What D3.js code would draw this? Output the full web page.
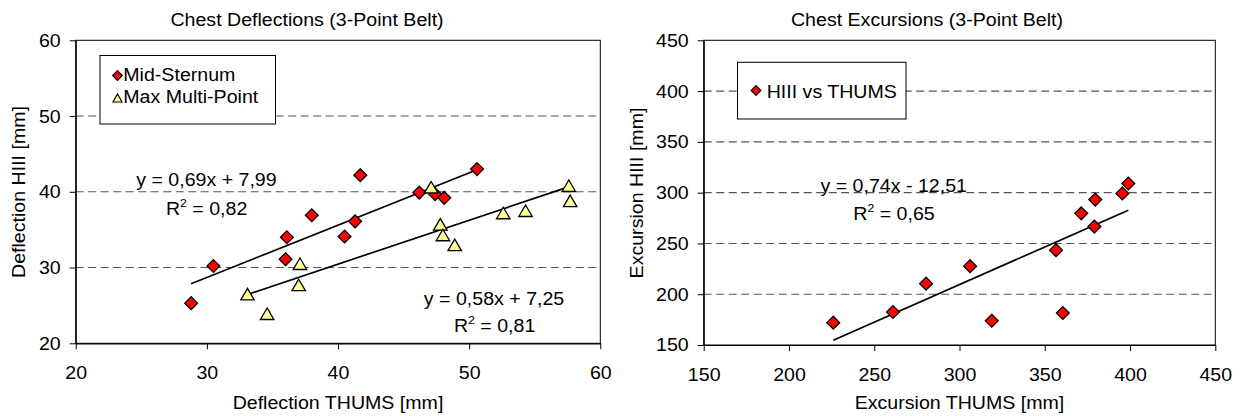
<!DOCTYPE html>
<html><head><meta charset="utf-8">
<script src="https://cdn.jsdelivr.net/npm/d3@7/dist/d3.min.js"></script>
<style>
body{margin:0;background:#fff}
text{font-family:"Liberation Sans",Arial,sans-serif;fill:#000}
</style>
</head><body>
<svg id="c" width="1240" height="416"></svg>
<script>
// ---------- data ----------
const midX   = [28.8, 30.5, 36.1, 36.0, 38.0, 40.5, 41.3, 41.7, 46.2, 47.4, 48.1, 50.6];
const midY   = [25.3, 30.2, 34.0, 31.1, 36.9, 34.1, 36.1, 42.2, 39.9, 39.7, 39.2, 43.0];
const multiX = [33.1, 34.6, 37.1, 37.0, 47.1, 47.8, 48.0, 48.9, 52.6, 54.3, 57.6, 57.7];
const multiY = [26.5, 23.9, 30.5, 27.7, 40.6, 35.7, 34.3, 33.0, 37.2, 37.5, 40.8, 38.8];
const excX   = [226, 261, 280.4, 306.2, 318.9, 356.6, 360.6, 371.4, 379.1, 379.6, 395.5, 399];
const excY   = [172, 182.5, 210.4, 227.6, 173.9, 243.4, 181.5, 279.6, 266.6, 293.2, 299.2, 309];
const midFit   = [0.69, 7.99];
const multiFit = [0.58, 7.25];
const excFit   = [0.74, -12.51];
const defTicks = [20, 30, 40, 50, 60];
const excTicks = [150, 200, 250, 300, 350, 400, 450];
const legendLeft  = ["Mid-Sternum", "Max Multi-Point"];
const legendRight = ["HIII vs THUMS"];

// ---------- setup ----------
const svg = d3.select("#c");
const FS = 17.5, SX = 1.12;
function txt(g, x, y, s, anchor, rot) {
  return g.append("text")
    .attr("transform", `translate(${x},${y})` + (rot ? " rotate(-90)" : "") + ` scale(${SX},1)`)
    .attr("text-anchor", anchor || "start")
    .attr("font-size", FS).text(s);
}
function eqR(g, x, y, r2) {
  const t = g.append("text").attr("transform", `translate(${x},${y}) scale(${SX},1)`).attr("font-size", FS);
  t.append("tspan").text("R");
  t.append("tspan").attr("font-size", 11).attr("dy", -8).text("2");
  t.append("tspan").attr("dy", 8).text(" = " + r2);
}
const diamond = r => `M0,${-r}L${r},0L0,${r}L${-r},0Z`;
const tri = (w, h) => `M0,${-h/2}L${w/2},${h/2}L${-w/2},${h/2}Z`;

function panel(cfg) {
  const g = svg.append("g");
  const x = d3.scaleLinear().domain(cfg.dom).range([cfg.x0, cfg.x1]);
  const y = d3.scaleLinear().domain(cfg.dom).range([cfg.y1, cfg.y0]);
  // grid
  g.append("g").selectAll("line").data(cfg.ticks.slice(1, -1)).join("line")
    .attr("x1", cfg.x0).attr("x2", cfg.x1).attr("y1", d => y(d)).attr("y2", d => y(d))
    .attr("stroke", "#555").attr("stroke-width", 1.1).attr("stroke-dasharray", "8,4.5");
  // border
  g.append("rect").attr("x", cfg.x0).attr("y", cfg.y0)
    .attr("width", cfg.x1 - cfg.x0).attr("height", cfg.y1 - cfg.y0)
    .attr("fill", "none").attr("stroke", "#000").attr("stroke-width", 1);
  // axes
  const ax = g.append("g").attr("transform", `translate(0,${cfg.y1})`)
    .call(d3.axisBottom(x).tickValues(cfg.ticks).tickSize(6).tickSizeOuter(0));
  ax.selectAll("text").attr("y", 23.3).attr("font-size", FS).attr("fill", "#000")
    .attr("font-family", '"Liberation Sans",Arial,sans-serif').attr("transform", `scale(${SX},1)`);
  const ay = g.append("g").attr("transform", `translate(${cfg.x0},0)`)
    .call(d3.axisLeft(y).tickValues(cfg.ticks).tickSize(6).tickSizeOuter(0));
  ay.selectAll("text").attr("x", -13.4).attr("dy", "0.34em").attr("font-size", FS).attr("fill", "#000")
    .attr("font-family", '"Liberation Sans",Arial,sans-serif').attr("transform", `scale(${SX},1)`);
  [ax, ay].forEach(a => { a.select(".domain").attr("stroke", "#000").attr("stroke-width", 1.2);
    a.selectAll(".tick line").attr("stroke", "#000"); });
  // titles
  txt(g, cfg.tx, 26, cfg.title, "middle");
  txt(g, (cfg.x0 + cfg.x1) / 2, 409, cfg.xlab, "middle");
  txt(g, cfg.ylx, cfg.yly, cfg.ylab, "middle", true);
  return {g, x, y};
}

function fitLine(p, xs, fit) {
  const e = d3.extent(xs);
  p.g.append("line")
    .attr("x1", p.x(e[0])).attr("y1", p.y(fit[0] * e[0] + fit[1]))
    .attr("x2", p.x(e[1])).attr("y2", p.y(fit[0] * e[1] + fit[1]))
    .attr("stroke", "#000").attr("stroke-width", 1.7);
}
function dots(p, xs, ys, path, fill) {
  p.g.append("g").selectAll("path").data(xs.map((d, i) => [d, ys[i]])).join("path")
    .attr("transform", d => `translate(${p.x(d[0])},${p.y(d[1])})`)
    .attr("d", path).attr("fill", fill).attr("stroke", "#000").attr("stroke-width", 1.3);
}

// ---------- left panel ----------
const L = panel({dom: [20, 60], ticks: defTicks, x0: 75.7, x1: 600.3, y0: 40.3, y1: 343.3,
  title: "Chest Deflections (3-Point Belt)", tx: 307, xlab: "Deflection THUMS [mm]",
  ylab: "Deflection HIII [mm]", ylx: 24.5, yly: 192});
fitLine(L, midX, midFit);
fitLine(L, multiX, multiFit);
dots(L, midX, midY, diamond(6.4), "#ff0000");
dots(L, multiX, multiY, tri(13.5, 11.5), "#ffff99");
// legend
L.g.append("rect").attr("x", 100).attr("y", 55.5).attr("width", 175.5).attr("height", 68.5)
  .attr("fill", "#fff").attr("stroke", "#000").attr("stroke-width", 1);
L.g.append("path").attr("transform", "translate(117.5,75.5)").attr("d", diamond(4.8))
  .attr("fill", "#ff0000").attr("stroke", "#000").attr("stroke-width", 1.2);
L.g.append("path").attr("transform", "translate(117.5,98)").attr("d", tri(9, 8))
  .attr("fill", "#ffff99").attr("stroke", "#000").attr("stroke-width", 1.2);
txt(L.g, 123.3, 80.5, legendLeft[0]);
txt(L.g, 123.3, 102.7, legendLeft[1]);
// equations
txt(L.g, 136.2, 186, `y = ${String(midFit[0]).replace(".", ",")}x + ${String(midFit[1]).replace(".", ",")}`);
eqR(L.g, 165.9, 214.5, "0,82");
txt(L.g, 423.8, 305, `y = ${String(multiFit[0]).replace(".", ",")}x + ${String(multiFit[1]).replace(".", ",")}`);
eqR(L.g, 453.9, 332, "0,81");

// ---------- right panel ----------
const R = panel({dom: [150, 450], ticks: excTicks, x0: 703.7, x1: 1215.3, y0: 40.3, y1: 345,
  title: "Chest Excursions (3-Point Belt)", tx: 927, xlab: "Excursion THUMS [mm]",
  ylab: "Excursion HIII [mm]", ylx: 643, yly: 193});
fitLine(R, excX, excFit);
dots(R, excX, excY, diamond(6.4), "#ff0000");
R.g.append("rect").attr("x", 737.5).attr("y", 62.3).attr("width", 168.5).attr("height", 56.7)
  .attr("fill", "#fff").attr("stroke", "#000").attr("stroke-width", 1);
R.g.append("path").attr("transform", "translate(756,90.5)").attr("d", diamond(4.8))
  .attr("fill", "#ff0000").attr("stroke", "#000").attr("stroke-width", 1.2);
txt(R.g, 766.7, 97.5, legendRight[0]);
txt(R.g, 820.5, 192, `y = ${String(excFit[0]).replace(".", ",")}x - ${String(-excFit[1]).replace(".", ",")}`);
eqR(R.g, 853.3, 220, "0,65");
</script>
</body></html>
